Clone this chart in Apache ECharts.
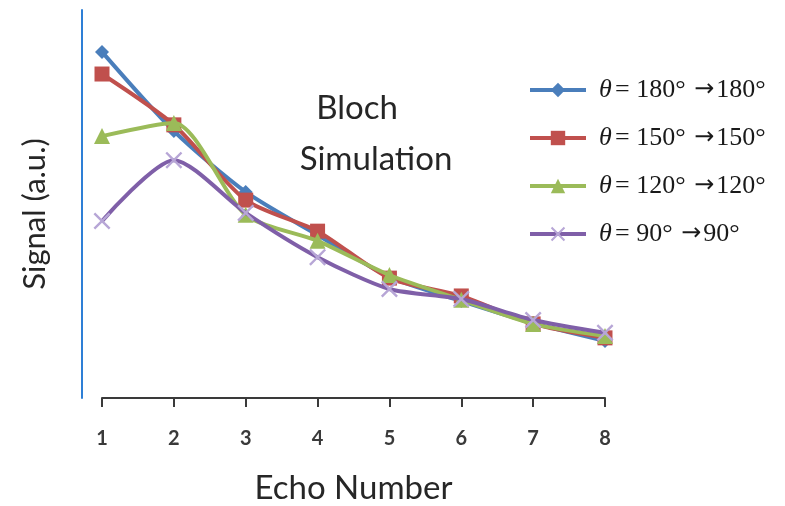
<!DOCTYPE html>
<html>
<head>
<meta charset="utf-8">
<script src="https://cdn.jsdelivr.net/npm/echarts@6/dist/echarts.min.js"></script>
<style>html,body{margin:0;padding:0;background:#fff}#c{width:785px;height:506px}</style>
</head>
<body>
<div id="c"></div>
<script>
var categories = ['1','2','3','4','5','6','7','8'];
var seriesNames = ['180', '150', '120', '90'];
var s180 = [0.892, 0.688, 0.531, 0.420, 0.312, 0.250, 0.193, 0.147];
var s150 = [0.835, 0.704, 0.510, 0.430, 0.309, 0.263, 0.191, 0.155];
var s120 = [0.675, 0.709, 0.472, 0.405, 0.317, 0.253, 0.191, 0.160];
var s90  = [0.456, 0.613, 0.477, 0.363, 0.281, 0.255, 0.201, 0.168];

var colors = ['#4A7EBB', '#C0504D', '#9BBB59', '#7F5FA8'];
var symbols = ['diamond', 'rect', 'triangle',
  'path://M0,1 L1,0 L5,4 L9,0 L10,1 L6,5 L10,9 L9,10 L5,6 L1,10 L0,9 L4,5 Z'];
var symbolSizes = [14, 15, 16, 17];
var data = [s180, s150, s120, s90];

var chart = echarts.init(document.getElementById('c'));
var series = data.map(function (d, i) {
  return {
    name: seriesNames[i],
    type: 'line',
    data: d,
    smooth: 0.25,
    symbol: symbols[i],
    symbolSize: symbolSizes[i],
    showAllSymbol: true,
    lineStyle: { color: colors[i], width: 4 },
    itemStyle: { color: i === 3 ? '#B7A6D6' : colors[i] },
    z: 2 + i
  };
});

chart.setOption({
  animation: false,
  backgroundColor: '#ffffff',
  grid: { left: 102, right: 180, top: 10, bottom: 108, containLabel: false, outerBoundsMode: 'none' },
  xAxis: {
    type: 'category',
    data: categories,
    boundaryGap: false,
    axisLine: { show: true, lineStyle: { color: '#3a3a3a', width: 2 } },
    axisTick: { show: true, alignWithLabel: true, length: 9, lineStyle: { color: '#3a3a3a', width: 2 } },
    axisLabel: { margin: 31, fontSize: 20, fontWeight: 'bold', color: '#3a3a3a', fontFamily: 'Lato' },
    name: 'Echo Number',
    nameLocation: 'middle',
    nameGap: 74,
    nameTextStyle: { fontSize: 33, color: '#262626', fontFamily: 'Lato' },
    splitLine: { show: false }
  },
  yAxis: {
    type: 'value',
    min: 0,
    max: 1,
    offset: 20,
    axisLine: { show: true, lineStyle: { color: '#2E7FD6', width: 2 } },
    axisTick: { show: false },
    axisLabel: { show: false },
    splitLine: { show: false },
    name: 'Signal (a.u.)',
    nameLocation: 'middle',
    nameGap: 32,
    nameRotate: 90,
    nameTextStyle: { fontSize: 31, color: '#262626', fontFamily: 'Lato', padding: [0, 20, 0, 0] }
  },
  legend: {
    orient: 'vertical',
    left: 523,
    top: 72,
    itemWidth: 56,
    itemHeight: 18,
    itemGap: 22,
    data: seriesNames,
    lineStyle: { width: 4 },
    formatter: function (name) {
      return '{t|θ} {n|= ' + name + '° }{a|→}{n|' + name + '°}';
    },
    textStyle: {
      rich: {
        t: { fontFamily: 'Liberation Serif', fontStyle: 'italic', fontSize: 26, color: '#1a1a1a', padding: [0, 0, 0, 8] },
        n: { fontFamily: 'Liberation Serif', fontSize: 26, color: '#1a1a1a' },
        a: { fontFamily: 'DejaVu Sans', fontSize: 24, color: '#1a1a1a', padding: [0, 2, 0, 2] }
      }
    }
  },
  graphic: [
    { type: 'text', x: 357, y: 108, style: { text: 'Bloch', font: '33px Lato', fill: '#262626', align: 'center', verticalAlign: 'middle' } },
    { type: 'text', x: 376, y: 159, style: { text: 'Simulation', font: '33px Lato', fill: '#262626', align: 'center', verticalAlign: 'middle' } }
  ],
  series: series
});
</script>
</body>
</html>
